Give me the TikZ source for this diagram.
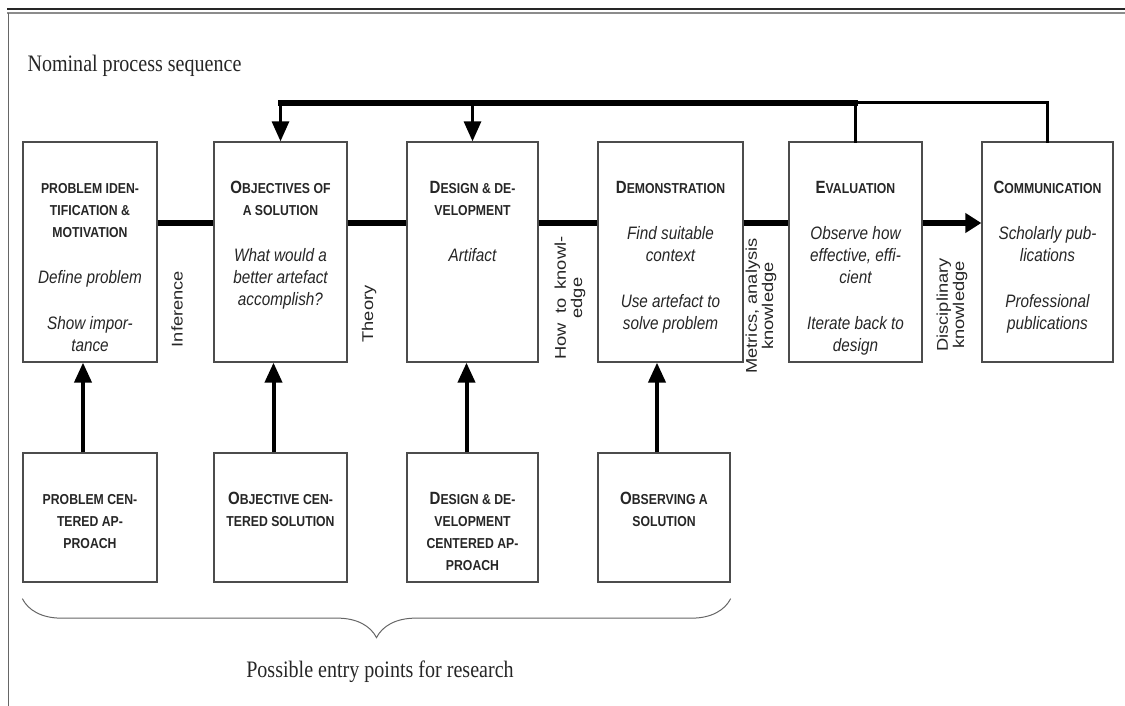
\documentclass[tikz,border=0pt]{standalone}
\usepackage{fontspec}
\setmainfont[FakeStretch=0.85]{Liberation Serif}
\setsansfont[FakeStretch=0.85]{Liberation Sans}
\newfontfamily\rotfont{Liberation Sans}
\usetikzlibrary{arrows.meta,decorations.pathreplacing}

\newcommand{\hd}{\fontsize{14.4pt}{22pt}\selectfont\bfseries}
\newcommand{\fc}[1]{{\fontsize{17.7pt}{22pt}\selectfont #1}}
\newcommand{\desc}{\fontsize{18pt}{22pt}\selectfont\mdseries\itshape}
\newcommand{\cellbox}[2]{\parbox[c][#1][t]{124pt}{\centering\sffamily\vspace*{38pt}\hd\rule{0pt}{13pt}#2}}

\begin{document}
\begin{tikzpicture}[x=1pt,y=-1pt,
  stage/.style={draw=black!70, line width=1.3pt, inner sep=0pt, minimum height=220pt, fill=white, text=black!85},
  entry/.style={draw=black!70, line width=1.3pt, inner sep=0pt, minimum height=129pt, fill=white, text=black!85},
  flowlabel/.style={rotate=90, yscale=0.85, font=\rotfont\fontsize{18.3pt}{19pt}\selectfont, align=center, inner sep=0pt, text=black!85},
  flow/.style={line width=6pt, black},
  fb/.style={line width=3pt, black, line cap=rect},
  up/.style={line width=4pt, black, -{Triangle[length=20pt,width=17pt]}},
  brace/.style={draw=black!60, line width=1pt, decorate, decoration={brace, amplitude=39pt}}]

\useasboundingbox (0,0) rectangle (1125,706);

% page frame
\draw[line width=2pt, black!85] (7,9.5) -- (1125,9.5);
\draw[line width=1.3pt, black!45] (7,13) -- (1125,13);
\draw[line width=1pt, black!60] (8,13) -- (8,706);

\node[anchor=base west, font=\fontsize{23.6pt}{26pt}\selectfont, text=black!85] (title) at (24,72) {Nominal process sequence};

% process stages
\node[stage, minimum width=134pt] (ident) at (90,252) {\cellbox{220pt}{PROBLEM IDEN-\\TIFICATION \&\\MOTIVATION\\[24pt]\desc Define problem\\[24pt]Show impor-\\tance}};
\node[stage, minimum width=133pt] (objs) at (280.5,252) {\cellbox{220pt}{\fc{O}BJECTIVES OF\\A SOLUTION\\[24pt]\desc What would a\\better artefact\\accomplish?}};
\node[stage, minimum width=131pt] (design) at (472.5,252) {\cellbox{220pt}{\fc{D}ESIGN \& DE-\\VELOPMENT\\[24pt]\desc Artifact}};
\node[stage, minimum width=145pt] (demo) at (670.5,252) {\cellbox{220pt}{\fc{D}EMONSTRATION\\[24pt]\desc Find suitable\\context\\[24pt]Use artefact to\\solve problem}};
\node[stage, minimum width=133pt] (eval) at (855.5,252) {\cellbox{220pt}{\fc{E}VALUATION\\[24pt]\desc Observe how\\effective, effi-\\cient\\[24pt]Iterate back to\\design}};
\node[stage, minimum width=131pt] (comm) at (1047.5,252) {\cellbox{220pt}{\fc{C}OMMUNICATION\\[24pt]\desc Scholarly pub-\\lications\\[24pt]Professional\\publications}};

% entry points
\node[entry, minimum width=134pt] (pca) at (90,517.5) {\cellbox{129pt}{PROBLEM CEN-\\TERED AP-\\PROACH}};
\node[entry, minimum width=133pt] (ocs) at (280.5,517.5) {\cellbox{129pt}{\fc{O}BJECTIVE CEN-\\TERED SOLUTION}};
\node[entry, minimum width=131pt] (dca) at (472.5,517.5) {\cellbox{129pt}{\fc{D}ESIGN \& DE-\\VELOPMENT\\CENTERED AP-\\PROACH}};
\node[entry, minimum width=132pt] (obs) at (664,517.5) {\cellbox{129pt}{\fc{O}BSERVING A\\SOLUTION}};

% knowledge labels
\node[flowlabel] (inference) at (177,309) {Inference};
\node[flowlabel] (theory) at (369,314) {Theory};
\node[flowlabel] (howto) at (570,298) {How \hspace{4pt}to \hspace{4pt}knowl-\\edge};
\node[flowlabel] (metrics) at (761,306) {Metrics, analysis\\knowledge};
\node[flowlabel] (discipl) at (952,305) {Disciplinary\\knowledge};

% main sequence
\draw[flow] ([yshift=29pt]ident.east) -- ([yshift=29pt]objs.west);
\draw[flow] ([yshift=29pt]objs.east) -- ([yshift=29pt]design.west);
\draw[flow] ([yshift=29pt]design.east) -- ([yshift=29pt]demo.west);
\draw[flow] ([yshift=29pt]demo.east) -- ([yshift=29pt]eval.west);
\draw[flow, -{Triangle[length=16pt,width=19pt]}] ([yshift=29pt]eval.east) -- ([yshift=29pt]comm.west);

% iteration back
\coordinate (fbtop) at (0,103);
\draw[fb] (eval.north) -- (eval.north |- fbtop);
\draw[fb, line width=5.5pt] (eval.north |- fbtop) -- (objs.north |- fbtop);
\draw[fb] (comm.north) -- (comm.north |- fbtop) -- (eval.north |- fbtop);
\draw[fb, -{Triangle[length=20pt,width=17pt]}] (objs.north |- fbtop) -- (objs.north);
\draw[fb, -{Triangle[length=20pt,width=17pt]}] (design.north |- fbtop) -- (design.north);

% entry arrows
\draw[up] ([xshift=-7pt]pca.north) -- ([xshift=-7pt]pca.north |- ident.south);
\draw[up] ([xshift=-7pt]ocs.north) -- ([xshift=-7pt]ocs.north |- objs.south);
\draw[up] ([xshift=-6pt]dca.north) -- ([xshift=-6pt]dca.north |- design.south);
\draw[up] ([xshift=-7pt]obs.north) -- ([xshift=-7pt]obs.north |- demo.south);

\draw[brace] ([yshift=-16pt]obs.south east) -- ([yshift=-16pt]pca.south west);
\node[anchor=base, font=\fontsize{23.6pt}{26pt}\selectfont, text=black!85] (entrytext) at (380,677) {Possible entry points for research};
\end{tikzpicture}
\end{document}
